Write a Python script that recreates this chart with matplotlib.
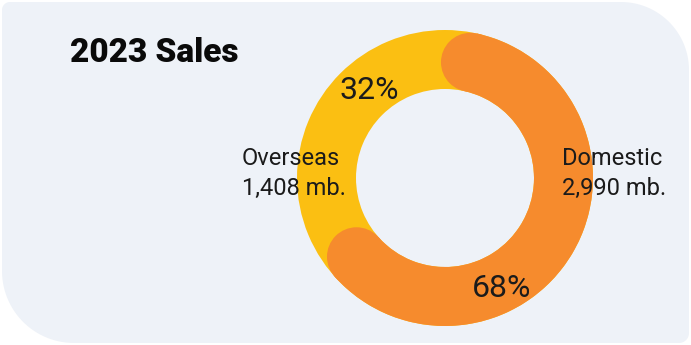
import numpy as np
import matplotlib
matplotlib.use('Agg')
import matplotlib.pyplot as plt
from matplotlib.patches import Wedge, Circle, Polygon

# Data
labels = ['Domestic', 'Overseas']
values = [2990, 1408]          # million baht
pct_labels = ['68%', '32%']
colors = ['#F68B2D', '#FBBF12']
title = '2023 Sales'

plt.rcParams['font.family'] = ['Roboto', 'DejaVu Sans']

W, H = 691, 345
fig = plt.figure(figsize=(W / 100, H / 100), dpi=100)
fig.patch.set_facecolor('white')
ax = fig.add_axes([0, 0, 1, 1])
ax.set_xlim(0, W)
ax.set_ylim(0, H)
ax.set_aspect('equal')
ax.axis('off')

# card background with uneven rounded corners
def corner(cx, cy, r, a0, a1):
    t = np.radians(np.linspace(a0, a1, 30))
    return np.column_stack([cx + r * np.cos(t), cy + r * np.sin(t)])

x0, x1, y0, y1 = 2, 689, 2, 343
r_tl, r_tr, r_br, r_bl = 8, 68, 10, 72
pts = np.vstack([
    corner(x1 - r_tr, y1 - r_tr, r_tr, 0, 90),
    corner(x0 + r_tl, y1 - r_tl, r_tl, 90, 180),
    corner(x0 + r_bl, y0 + r_bl, r_bl, 180, 270),
    corner(x1 - r_br, y0 + r_br, r_br, 270, 360),
])
ax.add_patch(Polygon(pts, closed=True, facecolor='#EEF2F8', edgecolor='none'))

# donut
cx, cy = 445, 167
r_out, ring = 148, 59
r_mid = r_out - ring / 2
total = sum(values)
span_dom = 360 * values[0] / total
start = 92                       # visible top edge of the domestic arc
end = start - span_dom
cap = np.degrees(np.arcsin((ring / 2) / r_mid))

ax.add_patch(Wedge((cx, cy), r_out, 0, 360, width=ring, facecolor=colors[1], edgecolor='none'))
ax.add_patch(Wedge((cx, cy), r_out, end + cap, start - cap, width=ring,
                   facecolor=colors[0], edgecolor='none'))
for a in (start - cap, end + cap):
    t = np.radians(a)
    ax.add_patch(Circle((cx + r_mid * np.cos(t), cy + r_mid * np.sin(t)), ring / 2,
                        facecolor=colors[0], edgecolor='none'))

txt = '#1B1B1B'
ax.text(70, 283, title, fontsize=24, fontweight='black', color='#0A0A0A', va='baseline', ha='left')
ax.text(369, 246, pct_labels[1], fontsize=23, color=txt, ha='center', va='baseline')
ax.text(502, 48, pct_labels[0], fontsize=23, color=txt, ha='center', va='baseline')

ax.text(242, 180, labels[1], fontsize=17, color=txt, ha='left', va='baseline')
ax.text(242, 150, f'{values[1]:,} mb.', fontsize=17, color=txt, ha='left', va='baseline')
ax.text(562, 180, labels[0], fontsize=17, color=txt, ha='left', va='baseline')
ax.text(562, 150, f'{values[0]:,} mb.', fontsize=17, color=txt, ha='left', va='baseline')

fig.savefig('out.png', dpi=100, facecolor='white')
